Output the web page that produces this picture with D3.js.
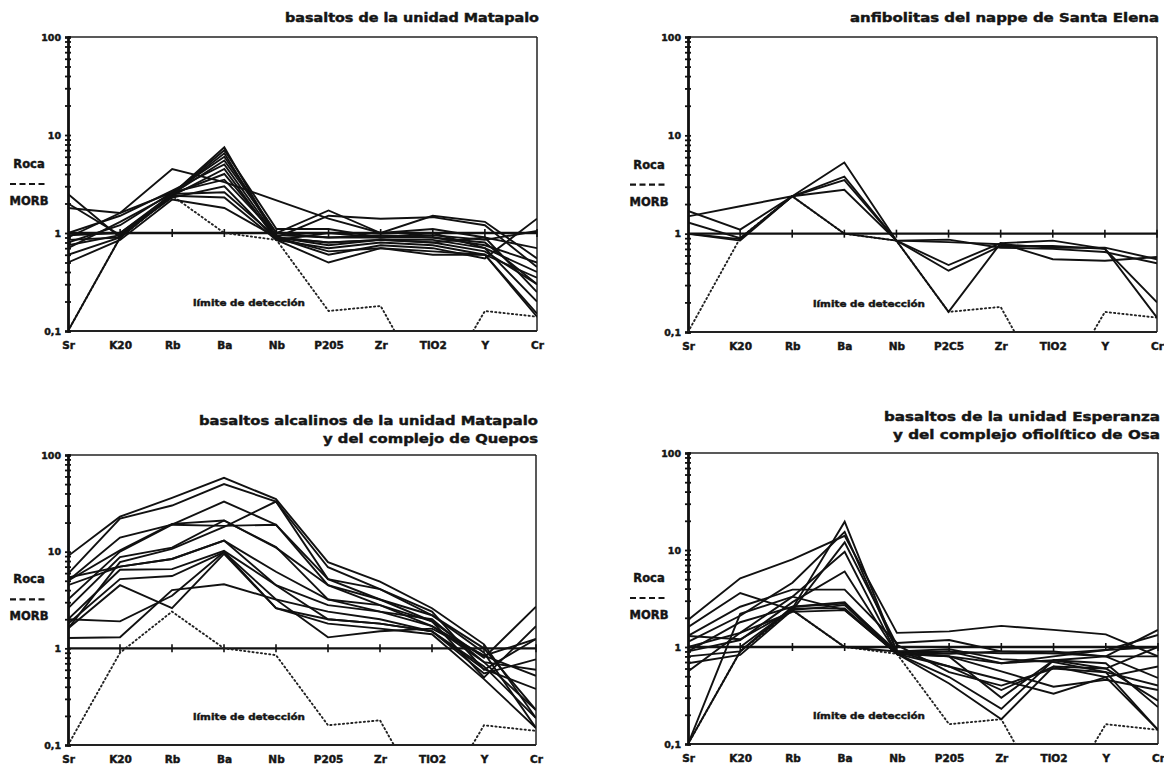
<!DOCTYPE html>
<html>
<head>
<meta charset="utf-8">
<script src="https://cdn.jsdelivr.net/npm/d3@7"></script>
<style>
body{margin:0;background:#fff;}
svg text{font-family:"DejaVu Sans",sans-serif;font-weight:bold;fill:#151515;stroke:#151515;stroke-width:0.45px;}
</style>
</head>
<body>
<script>
// elementos del diagrama normalizado a MORB
var elementos = ["Sr","K20","Rb","Ba","Nb","P205","Zr","TiO2","Y","Cr"];
var elementosSantaElena = ["Sr","K20","Rb","Ba","Nb","P2C5","Zr","TiO2","Y","Cr"];
var marcasY = [0.1, 1, 10, 100];
var limiteDeteccion = [0.1, 0.9, 2.4, 1.0, 0.85, 0.16, 0.18, 0.02, 0.16, 0.14];

// Roca/MORB, una fila por muestra (null = sin dato)
var basaltosMatapalo = [
  [2.5, 0.9, 2.5, 7.5, 0.9, 0.8, 0.85, 0.85, 0.7, 0.2],
  [2.0, 0.95, 2.5, 7.0, 1.1, 1.1, 0.9, 0.9, 0.8, 0.3],
  [1.8, 1.6, 2.6, 6.0, 1.0, 1.7, 1.0, 1.5, 1.3, 0.55],
  [1.0, 1.5, 2.7, 5.0, 0.9, 1.5, 1.4, 1.45, 1.2, 0.45],
  [0.95, 1.0, 2.4, 4.5, 0.85, 0.7, 0.8, 0.75, 0.6, 0.35],
  [0.9, 1.6, 4.5, 3.3, null, 1.4, 1.0, 1.1, 0.9, 0.25],
  [0.85, 0.9, 2.5, 4.0, 0.9, 0.6, 0.75, 0.7, 0.55, 1.4],
  [0.8, 1.2, 2.6, 3.5, 0.95, 0.9, 0.9, 0.95, 0.85, 1.05],
  [0.75, 0.95, 2.3, 3.0, 0.85, 0.5, 0.7, 0.65, 0.6, 0.15],
  [0.7, 1.3, 2.5, 2.6, 0.9, 0.8, 0.85, 0.8, 0.9, 0.7],
  [0.6, 0.9, 2.4, 2.3, 0.85, 1.0, 0.9, 1.0, 0.7, 0.4],
  [0.5, 0.85, 2.2, 1.8, 0.9, 0.65, 0.7, 0.6, 0.6, 0.14],
  [0.1, 0.9, 2.5, 6.5, 0.9, 0.75, 0.85, 0.8, 0.65, 0.3],
  [1.0, 1.0, 2.5, 5.5, 1.0, 0.9, 0.95, 0.9, 0.75, 0.5]
];
var anfibolitasSantaElena = [
  [1.7, 1.1, 2.4, 5.3, 0.85, 0.48, 0.8, 0.85, 0.7, 0.2],
  [1.5, 1.9, 2.4, 3.8, 0.85, 0.42, 0.75, 0.75, 0.7, 0.14],
  [1.3, 0.9, 2.4, 3.5, 0.85, 0.16, 0.8, 0.55, 0.53, 0.58],
  [1.0, 0.85, 2.4, 2.8, 0.85, 0.87, 0.72, 0.7, 0.65, 0.5],
  [1.0, 0.88, 2.4, 1.0, 0.85, 0.82, 0.78, 0.72, 0.72, 0.55]
];
var alcalinosMatapaloQuepos = [
  [9.0, 23, 36, 58, 35, 7.8, 4.9, 2.6, 1.1, 0.19],
  [5.9, 22, 30, 50, 33, 6.9, 4.1, 2.2, 0.9, 0.15],
  [5.0, 14, 19, 33, 19, 5.2, 3.2, 2.2, 1.0, 0.23],
  [3.2, 10, 19, 18.5, 19, 4.5, 2.8, 1.9, 0.8, 2.7],
  [2.6, 8.8, 11, 21, 11, 4.5, 3.2, 1.9, 0.5, 1.7],
  [1.6, 7.8, 10.7, 18, 33, 5.2, 4.1, 2.4, 0.6, 1.25],
  [5.4, 7.0, 8.4, 13, 6.2, 3.2, 2.8, 1.7, 0.72, 0.6],
  [2.0, 6.5, 6.6, 10.2, 4.5, 2.8, 2.4, 1.7, 0.84, 0.52],
  [1.8, 5.2, 5.6, 9.9, 3.2, 2.4, 2.0, 1.5, 0.61, 0.38],
  [1.6, 4.5, 2.6, 9.5, 2.6, 2.0, 1.8, 1.5, 0.55, 0.77],
  [1.28, 1.3, 4.0, 4.6, 3.2, 1.3, 1.5, 1.6, 0.84, 1.25],
  [2.0, 1.9, 3.5, 9.9, 2.6, 1.8, 1.6, 1.4, 0.48, 0.15],
  [5.0, 10.3, 19.4, 21, 11.2, 3.2, 2.4, 2.0, 0.72, 0.23],
  [4.5, 7.0, 8.4, 13, 4.5, 2.0, 1.8, 1.5, 0.65, 0.19]
];
var esperanzaOsa = [
  [1.9, 5.1, 8.0, 14, 1.4, 1.45, 1.65, 1.5, 1.35, 0.8],
  [1.6, 3.6, 2.4, 1.0, 0.9, 0.8, 0.68, 0.73, 0.8, 1.5],
  [1.3, 2.6, 3.9, 3.9, 1.1, 1.18, 0.9, 0.86, 0.93, 1.33],
  [1.13, 2.1, 4.6, 15.4, 0.9, 0.63, 0.36, 0.63, 0.6, 0.28],
  [1.0, 1.4, 3.3, 9.6, 0.85, 0.49, 0.23, 0.73, 0.68, 0.24],
  [0.9, 1.18, 2.9, 6.0, 0.85, 0.42, 0.18, 0.63, 0.49, 0.14],
  [0.8, 0.9, 2.6, 2.9, 0.85, 0.9, 0.86, 0.86, 0.8, 0.48],
  [0.68, 0.83, 2.4, 2.7, 0.85, 0.8, 0.56, 0.39, 0.46, 0.36],
  [0.56, 1.4, 2.3, 2.4, 0.85, 0.63, 0.46, 0.33, 0.49, 0.63],
  [0.1, 2.2, 3.3, 2.4, 0.85, 0.8, 0.3, 0.73, 0.6, 1.0],
  [0.1, 0.9, 2.5, 19.6, 0.9, 0.9, 0.68, 0.8, 0.93, 1.0],
  [1.0, 1.0, 2.5, 2.5, 0.85, 0.85, 0.9, 0.9, 0.8, 0.8],
  [1.3, 1.2, 2.4, 12, 1.05, 0.55, 0.4, 0.6, 0.55, 0.14],
  [0.9, 1.8, 2.6, 2.8, 0.9, 0.95, 0.75, 0.7, 0.55, 0.4]
];

var paneles = [
  {titulo: ["basaltos de la unidad Matapalo"], ancho: [254], tituloY: 22,
   datos: basaltosMatapalo, etiquetas: elementos, x0: 68, x1: 537, top: 37, bottom: 331, rocaX: 29},
  {titulo: ["anfibolitas del nappe de Santa Elena"], ancho: [309], tituloY: 22,
   datos: anfibolitasSantaElena, etiquetas: elementosSantaElena, x0: 688, x1: 1157, top: 37, bottom: 332, rocaX: 649},
  {titulo: ["basaltos alcalinos de la unidad Matapalo", "y del complejo de Quepos"], ancho: [339, 215], tituloY: 425,
   datos: alcalinosMatapaloQuepos, etiquetas: elementos, x0: 68, x1: 536, top: 455, bottom: 745, rocaX: 29},
  {titulo: ["basaltos de la unidad Esperanza", "y del complejo ofiolítico de Osa"], ancho: [276, 267], tituloY: 421,
   datos: esperanzaOsa, etiquetas: elementos, x0: 688, x1: 1158, top: 453, bottom: 744, rocaX: 649}
];

var svg = d3.select("body").append("svg")
  .attr("width", 1164)
  .attr("height", 768);

paneles.forEach(function(p, k) {
  var g = svg.append("g");

  var x = d3.scalePoint().domain(d3.range(elementos.length)).range([p.x0, p.x1]);
  var y = d3.scaleLog().domain([0.1, 100]).range([p.bottom, p.top]);

  g.append("clipPath").attr("id", "clip" + k)
    .append("rect")
    .attr("x", p.x0).attr("y", p.top)
    .attr("width", p.x1 - p.x0).attr("height", p.bottom - p.top);

  // titulo
  p.titulo.forEach(function(t, i) {
    g.append("text")
      .attr("x", p.x1 + 2)
      .attr("y", p.tituloY + i * 18)
      .attr("text-anchor", "end")
      .attr("font-size", 13)
      .attr("textLength", p.ancho[i])
      .attr("lengthAdjust", "spacingAndGlyphs")
      .text(t);
  });

  // marco
  g.append("line").attr("x1", p.x0).attr("x2", p.x1).attr("y1", y(100)).attr("y2", y(100))
    .attr("stroke", "#222").attr("stroke-width", 1.6);
  g.append("line").attr("x1", p.x0).attr("x2", p.x1).attr("y1", y(0.1)).attr("y2", y(0.1))
    .attr("stroke", "#222").attr("stroke-width", 2.2);
  g.append("line").attr("x1", p.x1).attr("x2", p.x1).attr("y1", y(100)).attr("y2", y(0.1))
    .attr("stroke", "#222").attr("stroke-width", 1.5);

  // eje y con marcas a ambos lados
  var ejeIzq = d3.axisLeft(y).ticks(20).tickSize(3).tickFormat("");
  var ejeDer = d3.axisRight(y).ticks(20).tickSize(3).tickFormat("");
  [ejeIzq, ejeDer].forEach(function(eje) {
    var ga = g.append("g").attr("transform", "translate(" + p.x0 + ",0)").call(eje);
    ga.select(".domain").attr("stroke", "#111").attr("stroke-width", 2.4);
    ga.selectAll(".tick line").attr("stroke", "#111").attr("stroke-width", 1.8);
  });
  var etiq = g.append("g").attr("transform", "translate(" + p.x0 + ",0)")
    .call(d3.axisLeft(y).tickValues(marcasY).tickSize(0).tickPadding(7)
      .tickFormat(function(d) { return d === 0.1 ? "0,1" : d3.format("d")(d); }));
  etiq.select(".domain").remove();
  etiq.selectAll("text").attr("font-size", 9.5).style("font-family", "'DejaVu Sans', sans-serif");

  // linea de referencia Roca/MORB = 1
  g.append("line").attr("x1", p.x0).attr("x2", p.x1).attr("y1", y(1)).attr("y2", y(1))
    .attr("stroke", "#111").attr("stroke-width", 2.4);
  g.selectAll(".marca1").data(d3.range(1, elementos.length)).join("line")
    .attr("x1", function(d) { return x(d); }).attr("x2", function(d) { return x(d); })
    .attr("y1", y(1) - 4).attr("y2", y(1) + 4)
    .attr("stroke", "#111").attr("stroke-width", 1.6);

  // eje x: etiquetas de los elementos
  var ex = g.append("g").attr("transform", "translate(0," + p.bottom + ")")
    .call(d3.axisBottom(x).tickSize(0).tickPadding(11).tickFormat(function(d) { return p.etiquetas[d]; }));
  ex.select(".domain").remove();
  ex.selectAll("text").attr("font-size", 10.5).style("font-family", "'DejaVu Sans', sans-serif");

  var plot = g.append("g").attr("clip-path", "url(#clip" + k + ")");

  var linea = d3.line()
    .x(function(d) { return x(d.i); })
    .y(function(d) { return y(Math.max(d.v, 0.01)); });

  // limite de deteccion
  plot.append("path")
    .datum(limiteDeteccion.map(function(v, i) { return {i: i, v: v}; }))
    .attr("d", linea)
    .attr("fill", "none").attr("stroke", "#222").attr("stroke-width", 1.9)
    .attr("stroke-dasharray", "1.2,3").attr("stroke-linecap", "round");

  // muestras
  plot.selectAll(".muestra")
    .data(p.datos.map(function(fila) {
      return fila.map(function(v, i) { return {i: i, v: v}; }).filter(function(d) { return d.v !== null; });
    }))
    .join("path")
    .attr("class", "muestra")
    .attr("d", linea)
    .attr("fill", "none").attr("stroke", "#111").attr("stroke-width", 1.9)
    .attr("stroke-linejoin", "miter");

  // etiqueta limite de deteccion
  g.append("text")
    .attr("x", p.x0 + 125).attr("y", y(0.1) - 25)
    .attr("font-size", 9.5).attr("textLength", 112).attr("lengthAdjust", "spacingAndGlyphs")
    .text("límite de detección");

  // Roca / MORB
  var ry = y(1) - 65;
  g.append("text").attr("x", p.rocaX).attr("y", ry).attr("text-anchor", "middle")
    .attr("font-size", 11.5).text("Roca");
  g.append("line").attr("x1", p.rocaX - 19).attr("x2", p.rocaX + 19).attr("y1", ry + 16).attr("y2", ry + 16)
    .attr("stroke", "#151515").attr("stroke-width", 2.2).attr("stroke-dasharray", "6,3.5");
  g.append("text").attr("x", p.rocaX).attr("y", ry + 37).attr("text-anchor", "middle")
    .attr("font-size", 11.5).text("MORB");
});
</script>
</body>
</html>
